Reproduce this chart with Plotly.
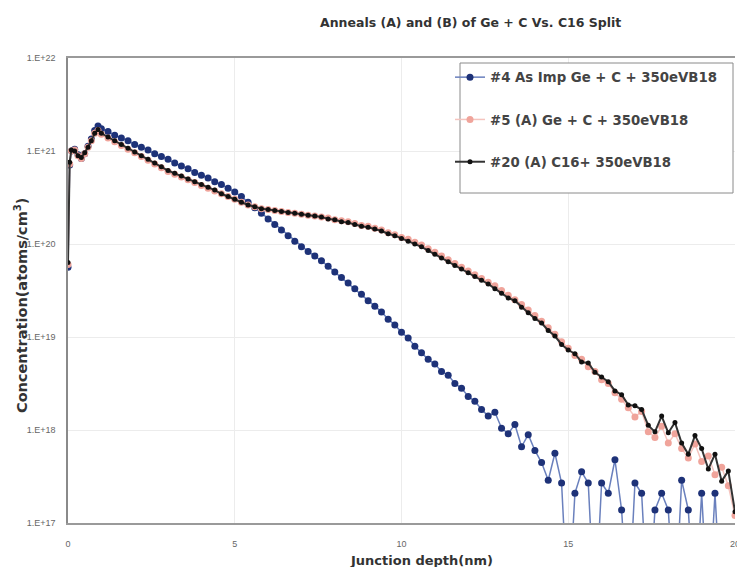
import plotly.graph_objects as go

# Junction depth (nm)
DEPTH = [0.0, 0.05, 0.1, 0.2, 0.3, 0.4, 0.5, 0.6, 0.7, 0.8, 0.9,
         1.0, 1.2, 1.4, 1.6, 1.8, 2.0, 2.2, 2.4, 2.6, 2.8,
         3.0, 3.2, 3.4, 3.6, 3.8, 4.0, 4.2, 4.4, 4.6, 4.8,
         5.0, 5.2, 5.4, 5.6, 5.8, 6.0, 6.2, 6.4, 6.6, 6.8,
         7.0, 7.2, 7.4, 7.6, 7.8, 8.0, 8.2, 8.4, 8.6, 8.8,
         9.0, 9.2, 9.4, 9.6, 9.8, 10.0, 10.2, 10.4, 10.6, 10.8,
         11.0, 11.2, 11.4, 11.6, 11.8, 12.0, 12.2, 12.4, 12.6, 12.8,
         13.0, 13.2, 13.4, 13.6, 13.8, 14.0, 14.2, 14.4, 14.6, 14.8,
         15.0, 15.2, 15.4, 15.6, 15.8, 16.0, 16.2, 16.4, 16.6, 16.8,
         17.0, 17.2, 17.4, 17.6, 17.8, 18.0, 18.2, 18.4, 18.6, 18.8,
         19.0, 19.2, 19.4, 19.6, 19.8, 20.0]

# log10 of concentration (atoms/cm3); 16.0 = below detection (drop to axis)
LOG_S4 = [19.75, 20.85, 21.00, 21.02, 20.96, 20.92, 20.97, 21.05, 21.13, 21.22, 21.27,
          21.24, 21.21, 21.17, 21.14, 21.11, 21.07, 21.04, 21.01, 20.97, 20.94,
          20.91, 20.87, 20.84, 20.81, 20.77, 20.74, 20.71, 20.67, 20.64, 20.60,
          20.56, 20.51, 20.45, 20.39, 20.33, 20.27, 20.21, 20.15, 20.09, 20.03,
          19.97, 19.92, 19.87, 19.82, 19.76, 19.70, 19.64, 19.58, 19.52, 19.46,
          19.39, 19.33, 19.27, 19.19, 19.13, 19.05, 18.99, 18.90, 18.83, 18.76,
          18.71, 18.63, 18.59, 18.50, 18.45, 18.36, 18.31, 18.22, 18.15, 18.19,
          18.02, 17.96, 18.06, 17.82, 17.95, 17.78, 17.65, 17.46, 17.75, 17.43,
          16.00, 17.32, 17.55, 17.43, 16.00, 17.43, 17.32, 17.68, 17.14, 16.00,
          17.43, 17.32, 16.00, 17.14, 17.32, 17.14, 16.00, 17.46, 17.14, 16.00,
          17.32, 16.00, 17.32, 16.00, 16.00, 16.00]

LOG_S5 = [19.78, 20.86, 21.00, 21.01, 20.95, 20.92, 20.97, 21.04, 21.11, 21.19, 21.22,
          21.18, 21.14, 21.10, 21.06, 21.02, 20.98, 20.94, 20.90, 20.86, 20.82,
          20.78, 20.75, 20.72, 20.69, 20.66, 20.63, 20.60, 20.57, 20.54, 20.51,
          20.48, 20.45, 20.42, 20.40, 20.38, 20.37, 20.36, 20.35, 20.34, 20.33,
          20.32, 20.31, 20.30, 20.29, 20.28, 20.26, 20.25, 20.24, 20.22, 20.20,
          20.19, 20.17, 20.15, 20.12, 20.10, 20.07, 20.05, 20.02, 19.99, 19.95,
          19.91, 19.87, 19.83, 19.79, 19.75, 19.71, 19.67, 19.63, 19.59, 19.55,
          19.50, 19.45, 19.40, 19.35, 19.29, 19.23, 19.17, 19.10, 19.03, 18.95,
          18.88, 18.80, 18.76, 18.68, 18.63, 18.54, 18.50, 18.40, 18.33, 18.24,
          18.14, 18.20, 17.98, 17.92, 18.04, 17.86, 17.96, 17.80, 17.70, 17.85,
          17.66, 17.72, 17.52, 17.60, 17.40, 17.08]

LOG_S20 = [19.80, 20.88, 21.01, 21.00, 20.95, 20.93, 20.98, 21.04, 21.11, 21.19, 21.23,
           21.19, 21.15, 21.11, 21.07, 21.03, 20.99, 20.95, 20.91, 20.87, 20.83,
           20.79, 20.76, 20.73, 20.70, 20.67, 20.64, 20.61, 20.58, 20.54, 20.51,
           20.48, 20.45, 20.42, 20.40, 20.38, 20.37, 20.36, 20.35, 20.34, 20.33,
           20.32, 20.31, 20.30, 20.29, 20.27, 20.26, 20.24, 20.23, 20.21, 20.19,
           20.18, 20.16, 20.14, 20.11, 20.09, 20.06, 20.03, 20.00, 19.97, 19.93,
           19.89, 19.85, 19.81, 19.77, 19.73, 19.69, 19.65, 19.61, 19.57, 19.52,
           19.47, 19.42, 19.39, 19.32, 19.26, 19.20, 19.15, 19.07, 19.01, 18.92,
           18.86, 18.82, 18.73, 18.72, 18.62, 18.57, 18.52, 18.42, 18.38, 18.27,
           18.26, 18.22, 18.05, 17.98, 18.15, 17.97, 18.08, 17.86, 17.74, 17.94,
           17.80, 17.58, 17.74, 17.45, 17.56, 17.12]

NAMES = ["#4 As Imp Ge + C + 350eVB18", "#5 (A) Ge + C + 350eVB18", "#20 (A) C16+ 350eVB18"]
Y_TICKS = [1e17, 1e18, 1e19, 1e20, 1e21, 1e22]
Y_TICKTEXT = ["1.E+17", "1.E+18", "1.E+19", "1.E+20", "1.E+21", "1.E+22"]
X_TICKS = [0, 5, 10, 15, 20]

FONT = "Liberation Sans, Arial, sans-serif"
WIDE = "DejaVu Sans, sans-serif"

def conc(logs):
    return [10 ** v for v in logs]

fig = go.Figure()
styles = [
    dict(line=dict(color="#6a80bd", width=1.5), marker=dict(color="#1e3278", size=7)),
    dict(line=dict(color="#f5c4be", width=1.5), marker=dict(color="#f0a49b", size=7)),
    dict(line=dict(color="#333333", width=2), marker=dict(color="#111111", size=5)),
]
for i, (name, logs) in enumerate(zip(NAMES, [LOG_S4, LOG_S5, LOG_S20])):
    fig.add_trace(go.Scatter(x=DEPTH, y=conc(logs), name=name, mode="lines+markers",
                             legendgroup=f"g{i}", **styles[i]))

def px_x(p):
    return (p - 68) / 667

def px_y(p):
    return (523 - p) / 465

fig.update_layout(
    width=737, height=567,
    margin=dict(l=68, r=2, t=58, b=44),
    paper_bgcolor="white", plot_bgcolor="white",
    font=dict(family=FONT, color="#333"),
    showlegend=True,
    legend=dict(x=px_x(450), y=px_y(62), xanchor="left", yanchor="top",
                bgcolor="rgba(0,0,0,0)", borderwidth=0, tracegroupgap=22,
                font=dict(size=13.3, family=WIDE, color="#444", weight="bold")),
    xaxis=dict(range=[0, 20], tickvals=X_TICKS, showgrid=True, gridcolor="#ececec",
               showline=True, linecolor="#9a9a9a", linewidth=1.5, mirror=True,
               ticks="", ticklabelstandoff=11, zeroline=False, ticklabeloverflow="allow",
               automargin=False,
               tickfont=dict(size=9, color="#666", family=FONT)),
    yaxis=dict(type="log", range=[17, 22], tickvals=Y_TICKS, ticktext=Y_TICKTEXT,
               showgrid=True, gridcolor="#ececec", showline=True, linecolor="#8a8a8a",
               linewidth=1.5, ticks="", ticklabelstandoff=9, automargin=False,
               tickfont=dict(size=9, color="#666", family=FONT)),
    shapes=[dict(type="rect", xref="paper", yref="paper",
                 x0=px_x(460), x1=px_x(733), y0=px_y(193), y1=px_y(63),
                 line=dict(color="#8a8a8a", width=1), fillcolor="white", layer="above")],
    annotations=[
        dict(text="<b>Anneals (A) and (B) of Ge + C Vs. C16 Split</b>", xref="paper", yref="paper",
             x=px_x(470), y=px_y(22), xanchor="center", yanchor="middle", showarrow=False,
             font=dict(size=12.5, color="#333", family=WIDE)),
        dict(text="<b>Junction depth(nm)</b>", xref="paper", yref="paper",
             x=px_x(421), y=px_y(560), xanchor="center", yanchor="middle", showarrow=False,
             font=dict(size=13, color="#333", family=WIDE)),
        dict(text="<b>Concentration(atoms/cm<sup>3</sup>)</b>", xref="paper", yref="paper",
             x=px_x(21), y=px_y(306), xanchor="center", yanchor="middle", showarrow=False,
             textangle=-90, font=dict(size=14.5, color="#333", family=WIDE)),
    ],
)

fig.write_html("out.html")
